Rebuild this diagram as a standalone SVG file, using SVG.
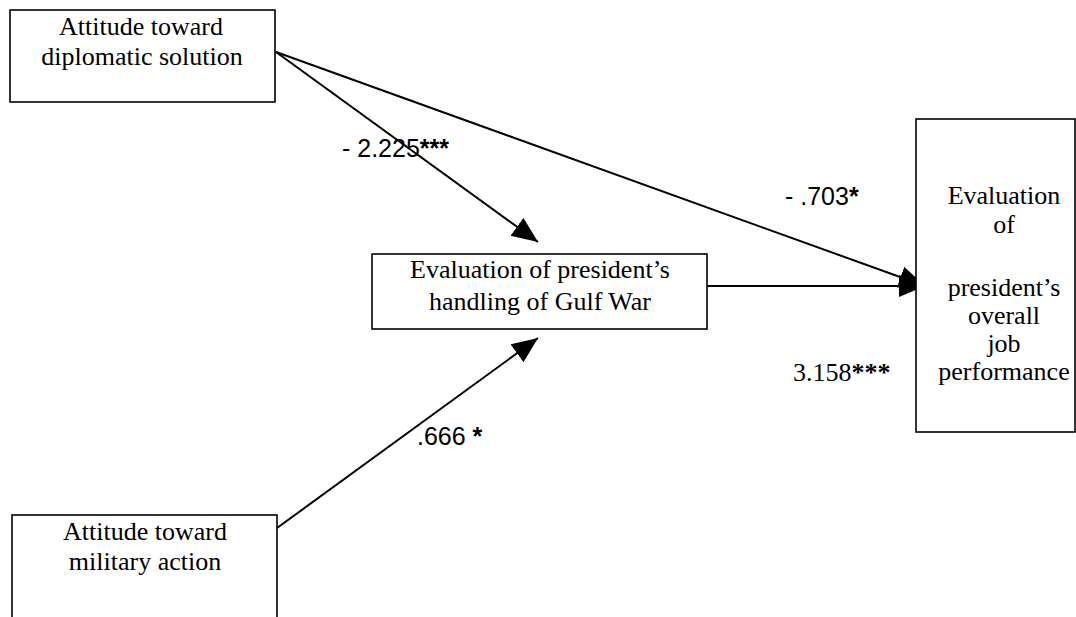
<svg xmlns="http://www.w3.org/2000/svg" width="1076" height="617" viewBox="0 0 1076 617">
  <defs>
    <marker id="head" markerUnits="userSpaceOnUse" markerWidth="28" markerHeight="24" refX="26" refY="11" orient="auto">
      <path d="M0,0 L26,11 L0,22 z" fill="#000"/>
    </marker>
    <style>
      .box { fill: #fff; stroke: #000; stroke-width: 1.6; }
      .label { font-family: "Liberation Serif", "Times New Roman", serif; font-size: 26px; fill: #000; text-anchor: middle; }
      .coef { font-family: "Liberation Sans", Arial, sans-serif; font-size: 25px; fill: #000; }
      .coef-serif { font-family: "Liberation Serif", "Times New Roman", serif; font-size: 26px; fill: #000; }
      .star { font-weight: bold; }
      .edge { stroke: #000; stroke-width: 2; fill: none; marker-end: url(#head); }
    </style>
  </defs>
  <rect width="1076" height="617" fill="#fff"/>

  <g id="connectors">
    <line class="edge" x1="276" y1="52" x2="538" y2="242"/>
    <line class="edge" x1="276" y1="52" x2="925" y2="286"/>
    <line class="edge" x1="707" y1="286" x2="925" y2="286"/>
    <line class="edge" x1="277" y1="528" x2="538" y2="338"/>
    <text class="coef" x="342" y="157">- 2.225<tspan class="star">***</tspan></text>
    <text class="coef" x="785" y="205">- .703<tspan class="star">*</tspan></text>
    <text class="coef" x="417" y="445">.666 <tspan class="star">*</tspan></text>
    <text class="coef-serif" x="793" y="381">3.158<tspan class="star">***</tspan></text>
  </g>

  <g id="diplomatic">
    <rect class="box" x="10" y="10" width="265" height="92"/>
    <text class="label" x="141" y="35">Attitude toward</text>
    <text class="label" x="142" y="65">diplomatic solution</text>
  </g>

  <g id="gulf-war">
    <rect class="box" x="372" y="254" width="335" height="75"/>
    <text class="label" x="540" y="278">Evaluation of president’s</text>
    <text class="label" x="540" y="310">handling of Gulf War</text>
  </g>

  <g id="job-performance">
    <rect class="box" x="916" y="119" width="159" height="313"/>
    <text class="label" x="1004" y="204">Evaluation</text>
    <text class="label" x="1004" y="233">of</text>
    <text class="label" x="1004" y="296">president’s</text>
    <text class="label" x="1004" y="324">overall</text>
    <text class="label" x="1004" y="352">job</text>
    <text class="label" x="1004" y="380">performance</text>
  </g>

  <g id="military">
    <rect class="box" x="12" y="515" width="265" height="112"/>
    <text class="label" x="145" y="540">Attitude toward</text>
    <text class="label" x="145" y="570">military action</text>
  </g>
</svg>
